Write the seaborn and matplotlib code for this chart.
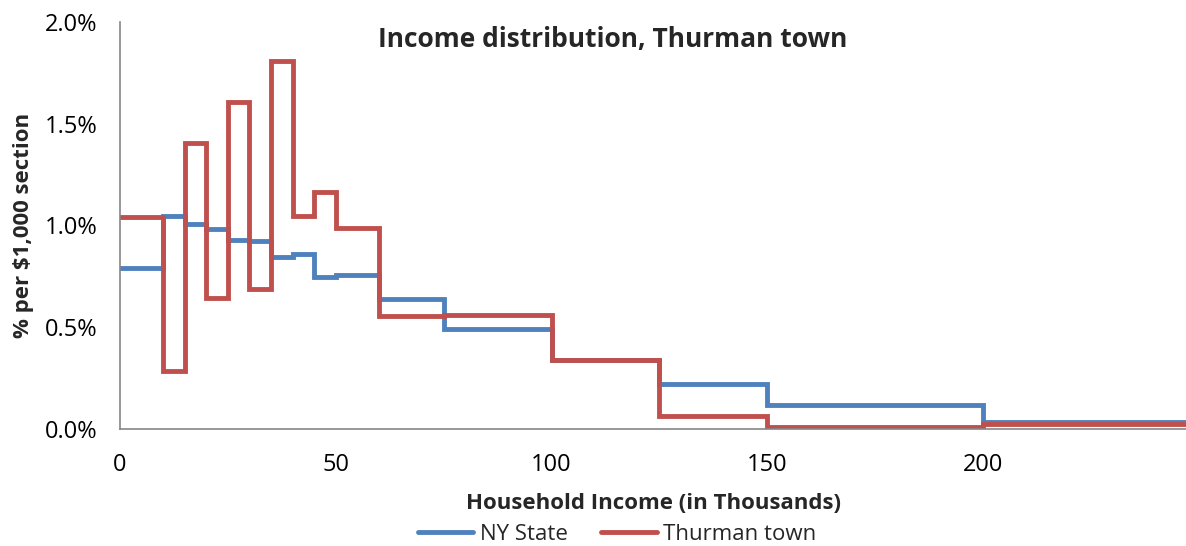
import matplotlib
matplotlib.use('Agg')
import matplotlib.pyplot as plt
import seaborn as sns
from matplotlib.ticker import FuncFormatter

# bin edges (thousands of $) and share per $1,000 (%)
edges = [0, 10, 15, 20, 25, 30, 35, 40, 45, 50, 60, 75, 100, 125, 150, 200, 250]
ny_state = [0.79, 1.048, 1.007, 0.981, 0.929, 0.925, 0.847, 0.858, 0.748, 0.755,
            0.637, 0.49, 0.337, 0.22, 0.118, 0.036]
thurman = [1.043, 0.285, 1.407, 0.645, 1.605, 0.686, 1.808, 1.048, 1.166, 0.986,
           0.555, 0.56, 0.339, 0.065, 0.011, 0.023]

series_names = ['NY State', 'Thurman town']
colors = ['#4F81BD', '#C0504D']

sns.set_theme(style='white')
plt.rcParams['font.family'] = ['Open Sans', 'DejaVu Sans']

fig = plt.figure(figsize=(11.86, 5.46), dpi=100)
ax = fig.add_axes([120 / 1186, 117 / 546, 1 - 120 / 1186, 407 / 546])

for name, vals, c in zip(series_names, [ny_state, thurman], colors):
    sns.lineplot(x=edges, y=vals + [vals[-1]], drawstyle='steps-post', color=c,
                 linewidth=3.5, label=name, ax=ax, solid_joinstyle='miter')

ax.set_xlim(0, 247)
ax.set_ylim(0, 2.0)
ax.set_xticks([0, 50, 100, 150, 200])
ax.set_yticks([0, 0.5, 1.0, 1.5, 2.0])
ax.yaxis.set_major_formatter(FuncFormatter(lambda v, p: f'{v:.1f}%'))

for s in ['top', 'right']:
    ax.spines[s].set_visible(False)
for s in ['left', 'bottom']:
    ax.spines[s].set_color('#868686')
    ax.spines[s].set_linewidth(1.2)
ax.tick_params(axis='both', which='major', length=5, width=1.2, color='#868686',
               labelsize=17, labelcolor='black', direction='out')
ax.tick_params(axis='y', pad=11)
ax.tick_params(axis='x', pad=12)

ax.set_xlabel('Household Income (in Thousands)', fontsize=16, fontweight='bold', labelpad=12)
ax.set_ylabel(r'% per \$1,000 section', fontsize=16, fontweight='bold', labelpad=8)
fig.text(613 / 1186, 1 - 39 / 546, 'Income distribution, Thurman town',
         ha='center', va='center', fontsize=19, fontweight='bold')

ax.legend(loc='center', bbox_to_anchor=(617 / 1186, 12 / 546), bbox_transform=fig.transFigure,
          ncol=2, frameon=False, fontsize=16, handlelength=2.5, handletextpad=0.3,
          columnspacing=1.5, borderaxespad=0, borderpad=0)

fig.savefig('out.png', dpi=100)
